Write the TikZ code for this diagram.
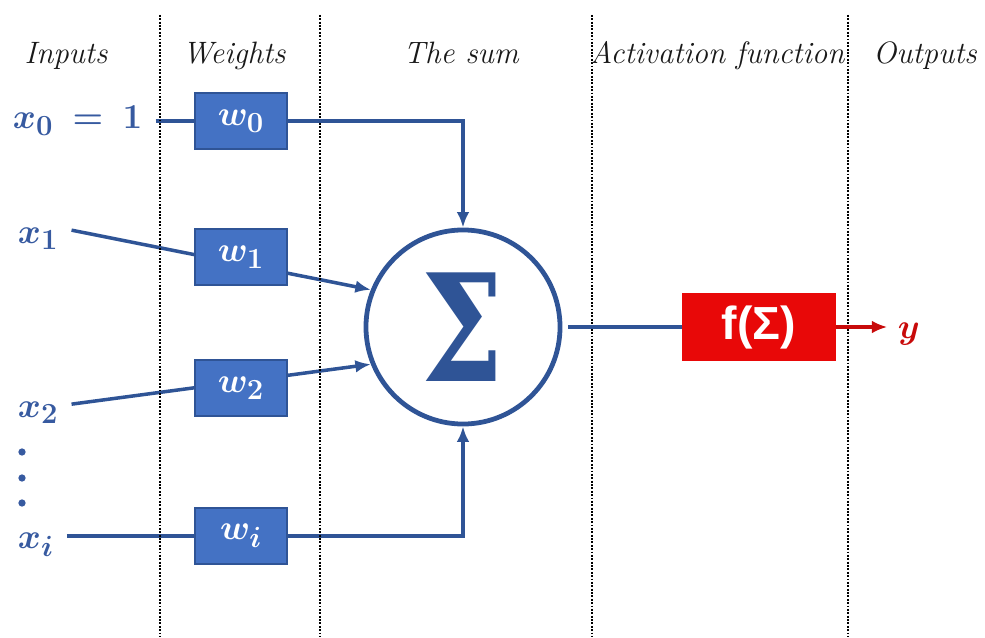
\documentclass[tikz,border=0pt]{standalone}
\usepackage{amsmath}
\usepackage{bm}
\usepackage{fontspec}
\newfontfamily\actfont{Liberation Sans}
\newfontfamily\sumfont{DejaVu Serif}
\usetikzlibrary{positioning, calc, arrows.meta, backgrounds}
\definecolor{wireblue}{RGB}{47,84,150}
\definecolor{boxblue}{RGB}{68,114,196}
\definecolor{labelblue}{RGB}{55,90,160}
\definecolor{actred}{RGB}{232,8,8}
\definecolor{outred}{RGB}{200,10,10}

\begin{document}
\begin{tikzpicture}[x=0.025cm, y=-0.025cm, >={Latex[length=11pt,width=9pt]},
	divider/.style={black, line width=1.8pt, dash pattern=on 1.3pt off 1.1pt},
	colhead/.style={anchor=base, font=\fontsize{22}{26}\selectfont\itshape, text=black!90},
	inlabel/.style={anchor=base west, font=\fontsize{30}{34}\selectfont, text=labelblue},
	wbox/.style={draw=wireblue, line width=0.8pt, fill=boxblue, text=white, minimum width=2.3cm, minimum height=1.4cm, inner sep=0pt, font=\fontsize{29}{32}\selectfont},
	sumnode/.style={circle, draw=wireblue, line width=3.4pt, fill=white, minimum size=4.85cm, inner sep=0pt, text=wireblue},
	actbox/.style={fill=actred, text=white, minimum width=3.85cm, minimum height=1.72cm, inner sep=0pt, font=\fontsize{33}{36}\selectfont\actfont\bfseries},
	link/.style={wireblue, line width=2.5pt}]
	\useasboundingbox (0,0) rectangle (985,637);

	%% column separators and headings
	\foreach \xx in {160,320,592,848}
		\draw[divider] (\xx,15) -- (\xx,637);
	\node[colhead] (hin)   at (66,64)  {Inputs};
	\node[colhead] (hw)    at (234,64) {Weights};
	\node[colhead] (hsum)  at (461,64) {The sum};
	\node[colhead] (hact)  at (717,64) {Activation function};
	\node[colhead] (hout)  at (925,64) {Outputs};

	%% inputs
	\node[inlabel, anchor=west] (x0) at (8,121) {$\bm{x_0}\;\bm{=}\;\bm{1}$};
	\node[inlabel] (x1) at (13,243) {$\bm{x_1}$};
	\node[inlabel] (x2) at (13,417) {$\bm{x_2}$};
	\node[inlabel] (xi) at (13,548) {$\bm{x_i}$};
	\foreach \yy in {452,478,503}
		\fill[labelblue] (22,\yy) circle (2.6pt);

	%% weights
	\node[wbox] (w0) at (241,121) {$\bm{w_0}$};
	\node[wbox] (w1) at (241,257) {$\bm{w_1}$};
	\node[wbox] (w2) at (241,388) {$\bm{w_2}$};
	\node[wbox] (wi) at (241,536) {$\bm{w_i}$};

	%% summation and activation
	\node[sumnode] (sum) at (463,327) {\scalebox{0.78}[1]{\fontsize{106}{106}\selectfont\sumfont\bfseries Σ}};
	\node[actbox] (act) at (759,327) {f(Σ)};
	\node[inlabel, text=outred] (y) at (893,338) {$\bm{y}$};

	\begin{scope}[on background layer]
		\draw[link] ([xshift=6pt]x0.east) -- (w0.west);
		\draw[link, ->] ([xshift=6pt, yshift=6pt]x1.east) -- (sum.158);
		\draw[link, ->] ([xshift=6pt, yshift=6pt]x2.east) -- (sum.202);
		\draw[link, ->] ([xshift=6pt, yshift=6pt]xi.east) -| (sum.south);
	\end{scope}
	\draw[link, ->] (w0.east) -| (sum.north);
	\draw[link] ([xshift=4pt]sum.east) -- (act.west);
	\draw[outred, line width=2.5pt, ->] (act.east) -- ([xshift=-4pt]act.east -| y.west);
\end{tikzpicture}
\end{document}
